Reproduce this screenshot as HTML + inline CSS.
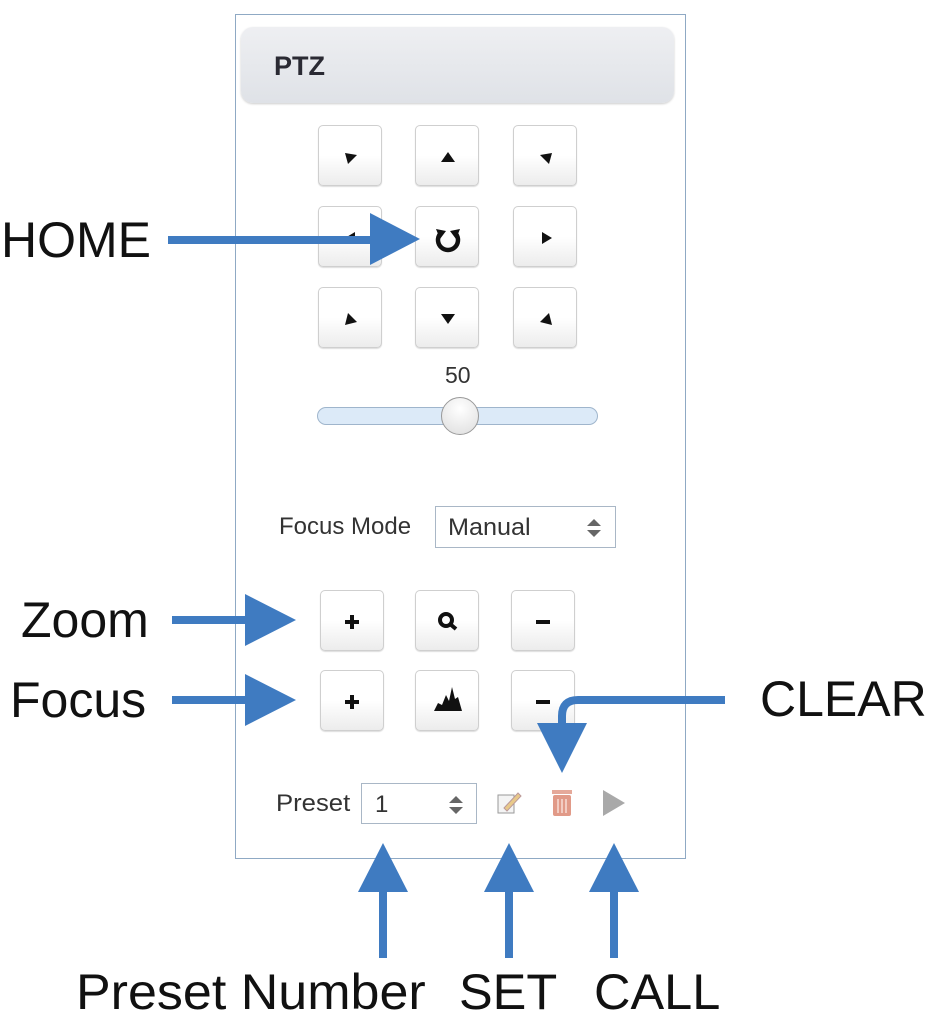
<!DOCTYPE html>
<html><head><meta charset="utf-8"><style>
html,body{margin:0;padding:0;background:#fff;width:936px;height:1016px;overflow:hidden;position:relative;font-family:"Liberation Sans",Arial,sans-serif}
.a{position:absolute}
.panel{left:235px;top:14px;width:451px;height:845px;border:1px solid #8fa9c4;box-sizing:border-box}
.hdr{left:241px;top:27px;width:433px;height:76px;border-radius:12px;background:linear-gradient(#eeeff2,#dfe2e7);box-shadow:0 1px 2px #ccc}
.hdr span{position:absolute;left:33px;top:24px;font-weight:bold;font-size:27px;color:#2a2a33}
.btn{position:absolute;width:64px;height:61px;border:1px solid #cfcfcf;border-radius:5px;background:linear-gradient(#fff 0%,#fff 50%,#ececec 100%);box-sizing:border-box;box-shadow:0 1px 1px #ddd}
.btn svg{position:absolute;left:0;top:0}
.lbl{position:absolute;font-size:50px;color:#111;line-height:1;transform-origin:left}
.sm{position:absolute;font-size:24px;color:#333;transform:scaleX(1.07);transform-origin:left}
.sel{position:absolute;border:1px solid #a9b7c6;box-sizing:border-box;background:#fff}
</style></head><body>
<div class="a panel"></div>
<div class="a hdr"><span>PTZ</span></div>

<div class="btn" style="left:318px;top:125px"><svg width="64" height="61"><polygon points="26,27 38,29 29,38" fill="#111"/></svg></div>
<div class="btn" style="left:415px;top:125px"><svg width="64" height="61"><polygon points="32,26 39,36 25,36" fill="#111"/></svg></div>
<div class="btn" style="left:513px;top:125px"><svg width="64" height="61"><polygon points="38,27 26,29 35,38" fill="#111"/></svg></div>
<div class="btn" style="left:318px;top:206px"><svg width="64" height="61"><polygon points="26,31 36,25 36,37" fill="#111"/></svg></div>
<div class="btn" style="left:415px;top:206px"><svg width="64" height="61"><path d="M24,27 A10,10 0 1 0 40,27" fill="none" stroke="#111" stroke-width="4.5"/><polygon points="20,22 30,24 24,32" fill="#111"/><polygon points="44,22 34,24 40,32" fill="#111"/></svg></div>
<div class="btn" style="left:513px;top:206px"><svg width="64" height="61"><polygon points="38,31 28,25 28,37" fill="#111"/></svg></div>
<div class="btn" style="left:318px;top:287px"><svg width="64" height="61"><polygon points="26,37 38,34 29,25" fill="#111"/></svg></div>
<div class="btn" style="left:415px;top:287px"><svg width="64" height="61"><polygon points="32,36 39,26 25,26" fill="#111"/></svg></div>
<div class="btn" style="left:513px;top:287px"><svg width="64" height="61"><polygon points="38,37 26,34 35,25" fill="#111"/></svg></div>

<div class="a" style="left:445px;top:362px;font-size:23px;color:#333">50</div>
<div class="a" style="left:317px;top:407px;width:281px;height:18px;border:1px solid #9fb5cc;border-radius:9px;background:#dceaf8;box-sizing:border-box"></div>
<div class="a" style="left:441px;top:397px;width:38px;height:38px;border-radius:50%;border:1px solid #999;background:radial-gradient(circle at 50% 30%,#fff,#ddd);box-sizing:border-box"></div>

<div class="sm" style="left:279px;top:513px;transform:scaleX(1.0)">Focus Mode</div>
<div class="sel" style="left:435px;top:506px;width:181px;height:42px"><span style="position:absolute;left:12px;top:7px;font-size:24px;color:#333;transform:scaleX(1.05);transform-origin:left">Manual</span><svg style="position:absolute;left:148px;top:10px" width="20" height="22"><polygon points="10,2 17,9 3,9" fill="#666"/><polygon points="10,20 17,13 3,13" fill="#666"/></svg></div>

<div class="btn" style="left:320px;top:590px"><svg width="64" height="61"><path d="M31,24 V38 M24,31 H38" stroke="#111" stroke-width="4"/></svg></div>
<div class="btn" style="left:415px;top:590px"><svg width="64" height="61"><circle cx="30" cy="29" r="6" fill="none" stroke="#111" stroke-width="4"/><path d="M34,33 L40,38" stroke="#111" stroke-width="4"/></svg></div>
<div class="btn" style="left:511px;top:590px"><svg width="64" height="61"><path d="M24,31 H38" stroke="#111" stroke-width="4"/></svg></div>
<div class="btn" style="left:320px;top:670px"><svg width="64" height="61"><path d="M31,24 V38 M24,31 H38" stroke="#111" stroke-width="4"/></svg></div>
<div class="btn" style="left:415px;top:670px"><svg width="64" height="61"><polygon points="18,40 22,32 26,34 30,24 33,30 36,16 39,28 42,26 46,40" fill="#111"/></svg></div>
<div class="btn" style="left:511px;top:670px"><svg width="64" height="61"><path d="M24,31 H38" stroke="#111" stroke-width="4"/></svg></div>

<div class="sm" style="left:276px;top:790px">Preset</div>
<div class="sel" style="left:361px;top:783px;width:116px;height:41px"><span style="position:absolute;left:13px;top:7px;font-size:24px;color:#333">1</span><svg style="position:absolute;left:84px;top:10px" width="20" height="22"><polygon points="10,2 17,9 3,9" fill="#666"/><polygon points="10,20 17,13 3,13" fill="#666"/></svg></div>
<svg class="a" style="left:495px;top:788px" width="30" height="30"><rect x="3" y="7" width="16" height="18" fill="#f4f4f4" stroke="#999"/><path d="M9,20 L23,5 L26,8 L12,23 Z" fill="#e8c98a" stroke="#b99"/></svg>
<svg class="a" style="left:546px;top:786px" width="32" height="34"><rect x="6" y="4" width="20" height="4" fill="#e5a99a"/><rect x="7" y="9" width="18" height="21" rx="2" fill="#e19a88"/><path d="M12,13V27M16,13V27M20,13V27" stroke="#f8dcd5" stroke-width="1.5"/></svg>
<svg class="a" style="left:600px;top:788px" width="30" height="30"><polygon points="3,2 25,15 3,28" fill="#a9a9a9"/></svg>

<svg class="a" style="left:0;top:0" width="936" height="1016">
<g fill="#3f7bc1" stroke="none">
<rect x="168" y="236" width="204" height="8"/><polygon points="370,213 420,239 370,265"/>
<rect x="172" y="616" width="75" height="8"/><polygon points="245,594 296,620 245,646"/>
<rect x="172" y="696" width="75" height="8"/><polygon points="245,674 296,700 245,726"/>
<polygon points="358,892 383,843 408,892"/><rect x="379" y="890" width="8" height="68"/>
<polygon points="484,892 509,843 534,892"/><rect x="505" y="890" width="8" height="68"/>
<polygon points="589,892 614,843 639,892"/><rect x="610" y="890" width="8" height="68"/>
<polygon points="537,723 587,723 562,773"/>
</g>
<path d="M725,700 H578 Q562,700 562,716 V726" fill="none" stroke="#3f7bc1" stroke-width="8"/>
</svg>

<div class="lbl" style="left:1px;top:215px">HOME</div>
<div class="lbl" style="left:21px;top:595px">Zoom</div>
<div class="lbl" style="left:10px;top:675px">Focus</div>
<div class="lbl" style="left:760px;top:674px">CLEAR</div>
<div class="lbl" style="left:76px;top:967px;transform:scaleX(1.04)">Preset Number</div>
<div class="lbl" style="left:459px;top:967px;transform:scaleX(1.01)">SET</div>
<div class="lbl" style="left:594px;top:967px;transform:scaleX(1.01)">CALL</div>
</body></html>
